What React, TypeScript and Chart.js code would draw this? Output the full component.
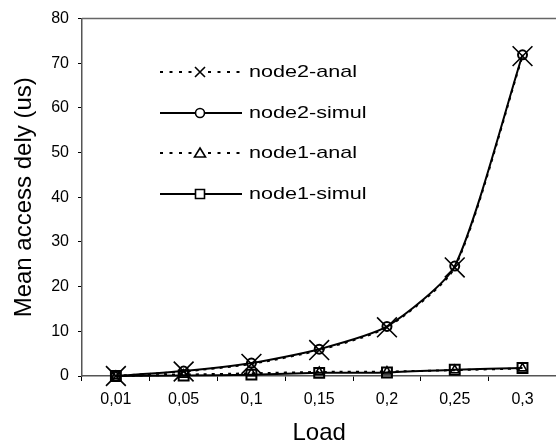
import React, { useEffect, useRef } from 'react';
import { Chart, registerables } from 'chart.js';

Chart.register(...registerables);

const loadLabels = ['0,01', '0,05', '0,1', '0,15', '0,2', '0,25', '0,3'];
const node2Anal = [0, 1.0, 2.7, 5.8, 10.9, 24.3, 71.6];
const node2Simul = [0, 1.1, 2.9, 6.0, 11.1, 24.6, 71.9];
const node1Anal = [0, 0.3, 0.6, 0.9, 1.0, 1.3, 1.7];
const node1Simul = [0, 0.1, 0.3, 0.7, 0.8, 1.4, 1.8];
const seriesNames = ['node2-anal', 'node2-simul', 'node1-anal', 'node1-simul'];
const yMin = 0;
const yMax = 80;
const yStep = 10;

const FONT = '"Liberation Sans", Arial, Helvetica, sans-serif';

function drawMarker(ctx: CanvasRenderingContext2D, style: string, x: number, y: number) {
  ctx.save();
  ctx.strokeStyle = '#000';
  ctx.lineWidth = 1.6;
  ctx.setLineDash([]);
  ctx.beginPath();
  if (style === 'crossRot') {
    const h = 5;
    ctx.moveTo(x - h, y - h); ctx.lineTo(x + h, y + h);
    ctx.moveTo(x - h, y + h); ctx.lineTo(x + h, y - h);
  } else if (style === 'circle') {
    ctx.fillStyle = '#fff';
    ctx.arc(x, y, 4.5, 0, Math.PI * 2);
    ctx.fill();
  } else if (style === 'triangle') {
    ctx.fillStyle = '#fff';
    ctx.moveTo(x, y - 5); ctx.lineTo(x + 5.5, y + 4); ctx.lineTo(x - 5.5, y + 4); ctx.closePath();
    ctx.fill();
  } else {
    ctx.fillStyle = '#fff';
    ctx.rect(x - 4.5, y - 4.5, 9, 9);
    ctx.fill();
  }
  ctx.stroke();
  ctx.restore();
}

const insideLegend = {
  id: 'insideLegend',
  afterDraw(chart: any) {
    const ctx: CanvasRenderingContext2D = chart.ctx;
    const rows = [72, 113, 153, 194];
    chart.data.datasets.forEach((ds: any, i: number) => {
      const y = rows[i];
      ctx.save();
      ctx.strokeStyle = '#000';
      ctx.lineWidth = 2;
      if (ds.borderDash && ds.borderDash.length) {
        ctx.setLineDash([3, 6.5]);
        ctx.beginPath(); ctx.moveTo(160, y); ctx.lineTo(194, y); ctx.stroke();
        ctx.beginPath(); ctx.moveTo(208, y); ctx.lineTo(242, y); ctx.stroke();
      } else {
        ctx.beginPath(); ctx.moveTo(160, y); ctx.lineTo(242, y); ctx.stroke();
      }
      ctx.restore();
      drawMarker(ctx, ds.pointStyle, 200, y);
      ctx.save();
      ctx.font = '17px ' + FONT;
      ctx.textBaseline = 'middle';
      ctx.textAlign = 'left';
      ctx.fillStyle = '#000';
      ctx.translate(249, y);
      ctx.scale(1.27, 1);
      ctx.fillText(ds.label, 0, 0);
      ctx.restore();
    });
  },
};

const topBorder = {
  id: 'topBorder',
  afterDraw(chart: any) {
    const ctx: CanvasRenderingContext2D = chart.ctx;
    const a = chart.chartArea;
    ctx.save();
    ctx.strokeStyle = '#666';
    ctx.lineWidth = 1.5;
    ctx.beginPath();
    ctx.moveTo(a.left, a.top);
    ctx.lineTo(chart.width, a.top);
    ctx.stroke();
    ctx.restore();
  },
};

export default function App() {
  const ref = useRef<HTMLCanvasElement | null>(null);

  useEffect(() => {
    if (!ref.current) return;
    const common = {
      borderColor: '#000',
      pointBorderColor: '#000',
      pointBackgroundColor: 'rgba(0,0,0,0)',
      borderWidth: 2,
      tension: 0.22,
      clip: false as const,
    };
    const chart = new Chart(ref.current, {
      type: 'line',
      data: {
        labels: loadLabels,
        datasets: [
          { ...common, label: seriesNames[0], data: node2Anal, borderDash: [3, 5], pointStyle: 'crossRot', pointRadius: 14, pointBorderWidth: 1.6 },
          { ...common, label: seriesNames[1], data: node2Simul, pointStyle: 'circle', pointRadius: 4.5, pointBorderWidth: 2 },
          { ...common, label: seriesNames[2], data: node1Anal, borderDash: [3, 5], pointStyle: 'triangle', pointRadius: 5, pointBorderWidth: 1.6 },
          { ...common, label: seriesNames[3], data: node1Simul, pointStyle: 'rect', pointRadius: 7, pointBorderWidth: 2 },
        ],
      },
      options: {
        responsive: false,
        animation: false,
        devicePixelRatio: 1,
        layout: { padding: { top: 15, right: 9, left: 0, bottom: 0 } },
        plugins: { legend: { display: false }, tooltip: { enabled: false } },
        scales: {
          x: {
            type: 'category',
            offset: true,
            grid: { display: true, offset: true, drawOnChartArea: false, drawTicks: true, tickLength: 5, color: '#000', lineWidth: 1 },
            border: { display: true, color: '#555', width: 1.5 },
            ticks: { color: '#000', font: { family: FONT, size: 16 }, padding: 9, maxRotation: 0, autoSkip: false },
            title: { display: true, text: 'Load', color: '#000', font: { family: FONT, size: 24, lineHeight: 1 }, padding: { top: 0, bottom: 0 } },
            afterFit: (s: any) => { s.height = 69; },
          },
          y: {
            min: yMin,
            max: yMax,
            grid: { display: true, drawOnChartArea: false, drawTicks: true, tickLength: 4, color: '#000' },
            border: { display: true, color: '#555', width: 1.5 },
            ticks: { stepSize: yStep, color: '#000', font: { family: FONT, size: 16 }, padding: 9 },
            title: { display: true, text: 'Mean access dely (us)', color: '#000', font: { family: FONT, size: 24 }, padding: { top: 10, bottom: 0 } },
            afterFit: (s: any) => { s.width = 82; },
          },
        },
      },
      plugins: [topBorder, insideLegend],
    });
    return () => chart.destroy();
  }, []);

  return (
    <div style={{ position: 'absolute', left: 0, top: 0, width: 556, height: 445, overflow: 'hidden', background: '#fff' }}>
      <canvas ref={ref} width={572} height={445} style={{ display: 'block' }} />
    </div>
  );
}
